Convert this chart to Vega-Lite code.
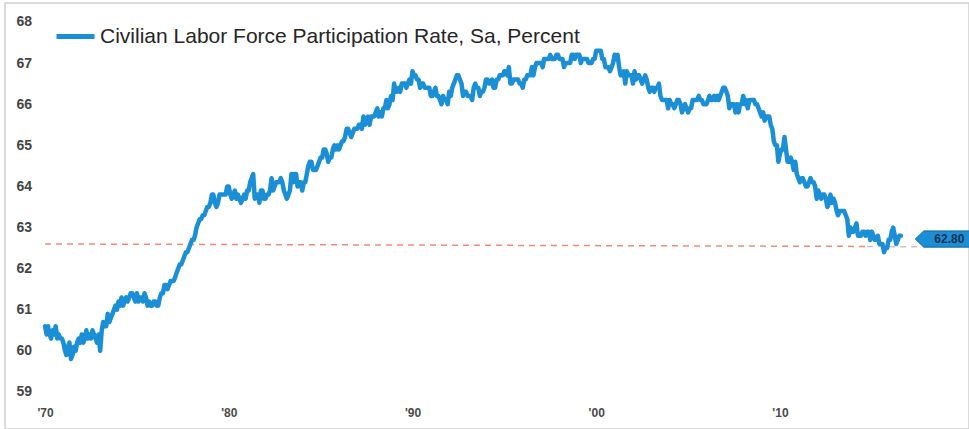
{
  "$schema": "https://vega.github.io/schema/vega-lite/v6.json",
  "autosize": "none",
  "padding": {"left": 5, "top": 3, "right": 0, "bottom": 0},
  "width": 964,
  "height": 426,
  "background": "white",
  "config": {
    "view": {"stroke": "#cfcfcf", "strokeWidth": 1.5},
    "font": "Liberation Sans"
  },
  "layer": [
    {
      "data": {"values": [{"d": "1970-01", "d2": "2014-10", "v": 62.6, "v2": 62.54}]},
      "mark": {"type": "rule", "color": "#f0897c", "strokeWidth": 1.5, "strokeDash": [6, 5]},
      "encoding": {
        "x": {"field": "d", "type": "temporal"},
        "x2": {"field": "d2"},
        "y": {"field": "v", "type": "quantitative"},
        "y2": {"field": "v2"}
      }
    },
    {
      "data": {"values": [{"d": "2014-10", "d2": "2017-08", "v": 62.54, "v2": 62.53}]},
      "mark": {"type": "rule", "color": "#c4c4c4", "strokeWidth": 1.5, "strokeDash": [6, 5]},
      "encoding": {
        "x": {"field": "d", "type": "temporal"},
        "x2": {"field": "d2"},
        "y": {"field": "v", "type": "quantitative"},
        "y2": {"field": "v2"}
      }
    },
    {
      "data": {"values": [
        {"d":"1970-01","v":60.6},{"d":"1970-02","v":60.4},{"d":"1970-03","v":60.6},{"d":"1970-04","v":60.4},{"d":"1970-05","v":60.3},{"d":"1970-06","v":60.5},{"d":"1970-07","v":60.4},{"d":"1970-08","v":60.6},{"d":"1970-09","v":60.3},{"d":"1970-10","v":60.4},{"d":"1970-11","v":60.3},{"d":"1970-12","v":60.3},
        {"d":"1971-01","v":60.2},{"d":"1971-02","v":60.0},{"d":"1971-03","v":59.9},{"d":"1971-04","v":60.1},{"d":"1971-05","v":60.2},{"d":"1971-06","v":59.8},{"d":"1971-07","v":59.9},{"d":"1971-08","v":60.1},{"d":"1971-09","v":60.0},{"d":"1971-10","v":60.2},{"d":"1971-11","v":60.3},{"d":"1971-12","v":60.2},
        {"d":"1972-01","v":60.4},{"d":"1972-02","v":60.2},{"d":"1972-03","v":60.3},{"d":"1972-04","v":60.5},{"d":"1972-05","v":60.3},{"d":"1972-06","v":60.4},{"d":"1972-07","v":60.3},{"d":"1972-08","v":60.5},{"d":"1972-09","v":60.4},{"d":"1972-10","v":60.3},{"d":"1972-11","v":60.2},{"d":"1972-12","v":60.4},
        {"d":"1973-01","v":60.0},{"d":"1973-02","v":60.5},{"d":"1973-03","v":60.7},{"d":"1973-04","v":60.6},{"d":"1973-05","v":60.6},{"d":"1973-06","v":60.9},{"d":"1973-07","v":60.7},{"d":"1973-08","v":60.8},{"d":"1973-09","v":60.9},{"d":"1973-10","v":61.0},{"d":"1973-11","v":61.1},{"d":"1973-12","v":61.0},
        {"d":"1974-01","v":61.2},{"d":"1974-02","v":61.1},{"d":"1974-03","v":61.3},{"d":"1974-04","v":61.1},{"d":"1974-05","v":61.2},{"d":"1974-06","v":61.3},{"d":"1974-07","v":61.2},{"d":"1974-08","v":61.3},{"d":"1974-09","v":61.4},{"d":"1974-10","v":61.4},{"d":"1974-11","v":61.3},{"d":"1974-12","v":61.2},
        {"d":"1975-01","v":61.4},{"d":"1975-02","v":61.2},{"d":"1975-03","v":61.3},{"d":"1975-04","v":61.3},{"d":"1975-05","v":61.2},{"d":"1975-06","v":61.4},{"d":"1975-07","v":61.3},{"d":"1975-08","v":61.1},{"d":"1975-09","v":61.2},{"d":"1975-10","v":61.1},{"d":"1975-11","v":61.1},{"d":"1975-12","v":61.2},
        {"d":"1976-01","v":61.2},{"d":"1976-02","v":61.1},{"d":"1976-03","v":61.1},{"d":"1976-04","v":61.3},{"d":"1976-05","v":61.4},{"d":"1976-06","v":61.4},{"d":"1976-07","v":61.6},{"d":"1976-08","v":61.6},{"d":"1976-09","v":61.5},{"d":"1976-10","v":61.6},{"d":"1976-11","v":61.7},{"d":"1976-12","v":61.7},
        {"d":"1977-01","v":61.7},{"d":"1977-02","v":61.8},{"d":"1977-03","v":61.9},{"d":"1977-04","v":62.0},{"d":"1977-05","v":62.1},{"d":"1977-06","v":62.1},{"d":"1977-07","v":62.2},{"d":"1977-08","v":62.3},{"d":"1977-09","v":62.4},{"d":"1977-10","v":62.4},{"d":"1977-11","v":62.5},{"d":"1977-12","v":62.6},
        {"d":"1978-01","v":62.7},{"d":"1978-02","v":62.7},{"d":"1978-03","v":62.8},{"d":"1978-04","v":63.0},{"d":"1978-05","v":63.1},{"d":"1978-06","v":63.2},{"d":"1978-07","v":63.2},{"d":"1978-08","v":63.3},{"d":"1978-09","v":63.3},{"d":"1978-10","v":63.4},{"d":"1978-11","v":63.5},{"d":"1978-12","v":63.5},
        {"d":"1979-01","v":63.6},{"d":"1979-02","v":63.8},{"d":"1979-03","v":63.8},{"d":"1979-04","v":63.6},{"d":"1979-05","v":63.5},{"d":"1979-06","v":63.6},{"d":"1979-07","v":63.8},{"d":"1979-08","v":63.8},{"d":"1979-09","v":63.8},{"d":"1979-10","v":63.8},{"d":"1979-11","v":63.8},{"d":"1979-12","v":64.0},
        {"d":"1980-01","v":64.0},{"d":"1980-02","v":63.8},{"d":"1980-03","v":63.7},{"d":"1980-04","v":63.8},{"d":"1980-05","v":63.9},{"d":"1980-06","v":63.7},{"d":"1980-07","v":63.8},{"d":"1980-08","v":63.7},{"d":"1980-09","v":63.6},{"d":"1980-10","v":63.7},{"d":"1980-11","v":63.8},{"d":"1980-12","v":63.7},
        {"d":"1981-01","v":63.9},{"d":"1981-02","v":63.9},{"d":"1981-03","v":64.1},{"d":"1981-04","v":64.2},{"d":"1981-05","v":64.3},{"d":"1981-06","v":63.7},{"d":"1981-07","v":63.8},{"d":"1981-08","v":63.8},{"d":"1981-09","v":63.6},{"d":"1981-10","v":63.9},{"d":"1981-11","v":63.9},{"d":"1981-12","v":63.7},
        {"d":"1982-01","v":63.7},{"d":"1982-02","v":63.8},{"d":"1982-03","v":63.8},{"d":"1982-04","v":63.9},{"d":"1982-05","v":64.2},{"d":"1982-06","v":63.9},{"d":"1982-07","v":64.0},{"d":"1982-08","v":64.1},{"d":"1982-09","v":64.1},{"d":"1982-10","v":64.1},{"d":"1982-11","v":64.2},{"d":"1982-12","v":64.1},
        {"d":"1983-01","v":63.9},{"d":"1983-02","v":63.8},{"d":"1983-03","v":63.7},{"d":"1983-04","v":63.8},{"d":"1983-05","v":63.9},{"d":"1983-06","v":64.3},{"d":"1983-07","v":64.1},{"d":"1983-08","v":64.3},{"d":"1983-09","v":64.3},{"d":"1983-10","v":64.0},{"d":"1983-11","v":64.1},{"d":"1983-12","v":64.1},
        {"d":"1984-01","v":63.9},{"d":"1984-02","v":64.1},{"d":"1984-03","v":64.1},{"d":"1984-04","v":64.3},{"d":"1984-05","v":64.5},{"d":"1984-06","v":64.6},{"d":"1984-07","v":64.6},{"d":"1984-08","v":64.4},{"d":"1984-09","v":64.4},{"d":"1984-10","v":64.4},{"d":"1984-11","v":64.5},{"d":"1984-12","v":64.6},
        {"d":"1985-01","v":64.7},{"d":"1985-02","v":64.7},{"d":"1985-03","v":64.9},{"d":"1985-04","v":64.9},{"d":"1985-05","v":64.8},{"d":"1985-06","v":64.6},{"d":"1985-07","v":64.7},{"d":"1985-08","v":64.7},{"d":"1985-09","v":64.9},{"d":"1985-10","v":65.0},{"d":"1985-11","v":64.9},{"d":"1985-12","v":65.0},
        {"d":"1986-01","v":64.9},{"d":"1986-02","v":65.0},{"d":"1986-03","v":65.1},{"d":"1986-04","v":65.1},{"d":"1986-05","v":65.2},{"d":"1986-06","v":65.4},{"d":"1986-07","v":65.4},{"d":"1986-08","v":65.3},{"d":"1986-09","v":65.2},{"d":"1986-10","v":65.3},{"d":"1986-11","v":65.4},{"d":"1986-12","v":65.4},
        {"d":"1987-01","v":65.4},{"d":"1987-02","v":65.5},{"d":"1987-03","v":65.5},{"d":"1987-04","v":65.4},{"d":"1987-05","v":65.7},{"d":"1987-06","v":65.5},{"d":"1987-07","v":65.6},{"d":"1987-08","v":65.7},{"d":"1987-09","v":65.5},{"d":"1987-10","v":65.7},{"d":"1987-11","v":65.7},{"d":"1987-12","v":65.7},
        {"d":"1988-01","v":65.8},{"d":"1988-02","v":65.9},{"d":"1988-03","v":65.7},{"d":"1988-04","v":65.8},{"d":"1988-05","v":65.7},{"d":"1988-06","v":65.9},{"d":"1988-07","v":65.9},{"d":"1988-08","v":66.1},{"d":"1988-09","v":65.9},{"d":"1988-10","v":66.0},{"d":"1988-11","v":66.2},{"d":"1988-12","v":66.1},
        {"d":"1989-01","v":66.5},{"d":"1989-02","v":66.3},{"d":"1989-03","v":66.3},{"d":"1989-04","v":66.4},{"d":"1989-05","v":66.3},{"d":"1989-06","v":66.5},{"d":"1989-07","v":66.5},{"d":"1989-08","v":66.5},{"d":"1989-09","v":66.4},{"d":"1989-10","v":66.5},{"d":"1989-11","v":66.6},{"d":"1989-12","v":66.5},
        {"d":"1990-01","v":66.8},{"d":"1990-02","v":66.7},{"d":"1990-03","v":66.7},{"d":"1990-04","v":66.6},{"d":"1990-05","v":66.6},{"d":"1990-06","v":66.4},{"d":"1990-07","v":66.5},{"d":"1990-08","v":66.5},{"d":"1990-09","v":66.4},{"d":"1990-10","v":66.4},{"d":"1990-11","v":66.4},{"d":"1990-12","v":66.4},
        {"d":"1991-01","v":66.2},{"d":"1991-02","v":66.2},{"d":"1991-03","v":66.3},{"d":"1991-04","v":66.4},{"d":"1991-05","v":66.2},{"d":"1991-06","v":66.2},{"d":"1991-07","v":66.1},{"d":"1991-08","v":66.0},{"d":"1991-09","v":66.2},{"d":"1991-10","v":66.1},{"d":"1991-11","v":66.1},{"d":"1991-12","v":66.0},
        {"d":"1992-01","v":66.3},{"d":"1992-02","v":66.2},{"d":"1992-03","v":66.4},{"d":"1992-04","v":66.5},{"d":"1992-05","v":66.6},{"d":"1992-06","v":66.7},{"d":"1992-07","v":66.7},{"d":"1992-08","v":66.6},{"d":"1992-09","v":66.5},{"d":"1992-10","v":66.2},{"d":"1992-11","v":66.3},{"d":"1992-12","v":66.3},
        {"d":"1993-01","v":66.2},{"d":"1993-02","v":66.2},{"d":"1993-03","v":66.2},{"d":"1993-04","v":66.1},{"d":"1993-05","v":66.4},{"d":"1993-06","v":66.5},{"d":"1993-07","v":66.4},{"d":"1993-08","v":66.4},{"d":"1993-09","v":66.2},{"d":"1993-10","v":66.3},{"d":"1993-11","v":66.3},{"d":"1993-12","v":66.4},
        {"d":"1994-01","v":66.6},{"d":"1994-02","v":66.6},{"d":"1994-03","v":66.5},{"d":"1994-04","v":66.5},{"d":"1994-05","v":66.6},{"d":"1994-06","v":66.4},{"d":"1994-07","v":66.4},{"d":"1994-08","v":66.6},{"d":"1994-09","v":66.6},{"d":"1994-10","v":66.7},{"d":"1994-11","v":66.7},{"d":"1994-12","v":66.7},
        {"d":"1995-01","v":66.8},{"d":"1995-02","v":66.8},{"d":"1995-03","v":66.7},{"d":"1995-04","v":66.9},{"d":"1995-05","v":66.5},{"d":"1995-06","v":66.5},{"d":"1995-07","v":66.6},{"d":"1995-08","v":66.6},{"d":"1995-09","v":66.6},{"d":"1995-10","v":66.6},{"d":"1995-11","v":66.5},{"d":"1995-12","v":66.5},
        {"d":"1996-01","v":66.4},{"d":"1996-02","v":66.6},{"d":"1996-03","v":66.6},{"d":"1996-04","v":66.7},{"d":"1996-05","v":66.7},{"d":"1996-06","v":66.7},{"d":"1996-07","v":66.9},{"d":"1996-08","v":66.7},{"d":"1996-09","v":66.9},{"d":"1996-10","v":67.0},{"d":"1996-11","v":67.0},{"d":"1996-12","v":67.0},
        {"d":"1997-01","v":67.0},{"d":"1997-02","v":66.9},{"d":"1997-03","v":67.1},{"d":"1997-04","v":67.1},{"d":"1997-05","v":67.1},{"d":"1997-06","v":67.1},{"d":"1997-07","v":67.2},{"d":"1997-08","v":67.1},{"d":"1997-09","v":67.1},{"d":"1997-10","v":67.1},{"d":"1997-11","v":67.2},{"d":"1997-12","v":67.2},
        {"d":"1998-01","v":67.1},{"d":"1998-02","v":67.1},{"d":"1998-03","v":67.1},{"d":"1998-04","v":66.9},{"d":"1998-05","v":67.0},{"d":"1998-06","v":67.0},{"d":"1998-07","v":67.0},{"d":"1998-08","v":67.0},{"d":"1998-09","v":67.2},{"d":"1998-10","v":67.2},{"d":"1998-11","v":67.1},{"d":"1998-12","v":67.2},
        {"d":"1999-01","v":67.2},{"d":"1999-02","v":67.2},{"d":"1999-03","v":67.0},{"d":"1999-04","v":67.1},{"d":"1999-05","v":67.1},{"d":"1999-06","v":67.1},{"d":"1999-07","v":67.1},{"d":"1999-08","v":67.0},{"d":"1999-09","v":67.0},{"d":"1999-10","v":67.0},{"d":"1999-11","v":67.1},{"d":"1999-12","v":67.1},
        {"d":"2000-01","v":67.3},{"d":"2000-02","v":67.3},{"d":"2000-03","v":67.3},{"d":"2000-04","v":67.3},{"d":"2000-05","v":67.1},{"d":"2000-06","v":67.1},{"d":"2000-07","v":66.9},{"d":"2000-08","v":66.9},{"d":"2000-09","v":66.9},{"d":"2000-10","v":66.8},{"d":"2000-11","v":66.9},{"d":"2000-12","v":67.0},
        {"d":"2001-01","v":67.2},{"d":"2001-02","v":67.1},{"d":"2001-03","v":67.2},{"d":"2001-04","v":66.9},{"d":"2001-05","v":66.7},{"d":"2001-06","v":66.7},{"d":"2001-07","v":66.8},{"d":"2001-08","v":66.5},{"d":"2001-09","v":66.8},{"d":"2001-10","v":66.7},{"d":"2001-11","v":66.7},{"d":"2001-12","v":66.7},
        {"d":"2002-01","v":66.5},{"d":"2002-02","v":66.8},{"d":"2002-03","v":66.6},{"d":"2002-04","v":66.7},{"d":"2002-05","v":66.7},{"d":"2002-06","v":66.6},{"d":"2002-07","v":66.5},{"d":"2002-08","v":66.6},{"d":"2002-09","v":66.7},{"d":"2002-10","v":66.6},{"d":"2002-11","v":66.4},{"d":"2002-12","v":66.3},
        {"d":"2003-01","v":66.4},{"d":"2003-02","v":66.4},{"d":"2003-03","v":66.3},{"d":"2003-04","v":66.4},{"d":"2003-05","v":66.4},{"d":"2003-06","v":66.5},{"d":"2003-07","v":66.2},{"d":"2003-08","v":66.1},{"d":"2003-09","v":66.1},{"d":"2003-10","v":66.1},{"d":"2003-11","v":66.1},{"d":"2003-12","v":65.9},
        {"d":"2004-01","v":66.1},{"d":"2004-02","v":66.0},{"d":"2004-03","v":66.0},{"d":"2004-04","v":65.9},{"d":"2004-05","v":66.0},{"d":"2004-06","v":66.1},{"d":"2004-07","v":66.1},{"d":"2004-08","v":66.0},{"d":"2004-09","v":65.8},{"d":"2004-10","v":65.9},{"d":"2004-11","v":66.0},{"d":"2004-12","v":65.9},
        {"d":"2005-01","v":65.8},{"d":"2005-02","v":65.9},{"d":"2005-03","v":65.9},{"d":"2005-04","v":66.1},{"d":"2005-05","v":66.1},{"d":"2005-06","v":66.1},{"d":"2005-07","v":66.1},{"d":"2005-08","v":66.2},{"d":"2005-09","v":66.1},{"d":"2005-10","v":66.1},{"d":"2005-11","v":66.0},{"d":"2005-12","v":66.0},
        {"d":"2006-01","v":66.0},{"d":"2006-02","v":66.1},{"d":"2006-03","v":66.2},{"d":"2006-04","v":66.1},{"d":"2006-05","v":66.1},{"d":"2006-06","v":66.2},{"d":"2006-07","v":66.1},{"d":"2006-08","v":66.2},{"d":"2006-09","v":66.1},{"d":"2006-10","v":66.2},{"d":"2006-11","v":66.3},{"d":"2006-12","v":66.4},
        {"d":"2007-01","v":66.4},{"d":"2007-02","v":66.3},{"d":"2007-03","v":66.2},{"d":"2007-04","v":65.9},{"d":"2007-05","v":66.0},{"d":"2007-06","v":66.0},{"d":"2007-07","v":66.0},{"d":"2007-08","v":65.8},{"d":"2007-09","v":66.0},{"d":"2007-10","v":65.8},{"d":"2007-11","v":66.0},{"d":"2007-12","v":66.0},
        {"d":"2008-01","v":66.2},{"d":"2008-02","v":66.0},{"d":"2008-03","v":66.1},{"d":"2008-04","v":65.9},{"d":"2008-05","v":66.1},{"d":"2008-06","v":66.1},{"d":"2008-07","v":66.1},{"d":"2008-08","v":66.1},{"d":"2008-09","v":66.0},{"d":"2008-10","v":66.0},{"d":"2008-11","v":65.9},{"d":"2008-12","v":65.8},
        {"d":"2009-01","v":65.7},{"d":"2009-02","v":65.8},{"d":"2009-03","v":65.6},{"d":"2009-04","v":65.7},{"d":"2009-05","v":65.7},{"d":"2009-06","v":65.7},{"d":"2009-07","v":65.5},{"d":"2009-08","v":65.4},{"d":"2009-09","v":65.1},{"d":"2009-10","v":65.0},{"d":"2009-11","v":65.0},{"d":"2009-12","v":64.6},
        {"d":"2010-01","v":64.8},{"d":"2010-02","v":64.9},{"d":"2010-03","v":64.9},{"d":"2010-04","v":65.2},{"d":"2010-05","v":64.9},{"d":"2010-06","v":64.6},{"d":"2010-07","v":64.6},{"d":"2010-08","v":64.7},{"d":"2010-09","v":64.6},{"d":"2010-10","v":64.4},{"d":"2010-11","v":64.6},{"d":"2010-12","v":64.3},
        {"d":"2011-01","v":64.2},{"d":"2011-02","v":64.1},{"d":"2011-03","v":64.2},{"d":"2011-04","v":64.2},{"d":"2011-05","v":64.1},{"d":"2011-06","v":64.0},{"d":"2011-07","v":64.0},{"d":"2011-08","v":64.1},{"d":"2011-09","v":64.2},{"d":"2011-10","v":64.1},{"d":"2011-11","v":64.1},{"d":"2011-12","v":64.0},
        {"d":"2012-01","v":63.7},{"d":"2012-02","v":63.9},{"d":"2012-03","v":63.8},{"d":"2012-04","v":63.7},{"d":"2012-05","v":63.8},{"d":"2012-06","v":63.8},{"d":"2012-07","v":63.7},{"d":"2012-08","v":63.5},{"d":"2012-09","v":63.6},{"d":"2012-10","v":63.8},{"d":"2012-11","v":63.6},{"d":"2012-12","v":63.7},
        {"d":"2013-01","v":63.6},{"d":"2013-02","v":63.4},{"d":"2013-03","v":63.3},{"d":"2013-04","v":63.4},{"d":"2013-05","v":63.4},{"d":"2013-06","v":63.4},{"d":"2013-07","v":63.4},{"d":"2013-08","v":63.3},{"d":"2013-09","v":63.2},{"d":"2013-10","v":62.8},{"d":"2013-11","v":63.0},{"d":"2013-12","v":62.9},
        {"d":"2014-01","v":62.9},{"d":"2014-02","v":63.0},{"d":"2014-03","v":63.1},{"d":"2014-04","v":62.8},{"d":"2014-05","v":62.8},{"d":"2014-06","v":62.8},{"d":"2014-07","v":62.9},{"d":"2014-08","v":62.9},{"d":"2014-09","v":62.8},{"d":"2014-10","v":62.9},{"d":"2014-11","v":62.9},{"d":"2014-12","v":62.7},
        {"d":"2015-01","v":62.9},{"d":"2015-02","v":62.8},{"d":"2015-03","v":62.7},{"d":"2015-04","v":62.7},{"d":"2015-05","v":62.8},{"d":"2015-06","v":62.6},{"d":"2015-07","v":62.6},{"d":"2015-08","v":62.6},{"d":"2015-09","v":62.4},{"d":"2015-10","v":62.5},{"d":"2015-11","v":62.5},{"d":"2015-12","v":62.7},
        {"d":"2016-01","v":62.7},{"d":"2016-02","v":62.9},{"d":"2016-03","v":63.0},{"d":"2016-04","v":62.8},{"d":"2016-05","v":62.6},{"d":"2016-06","v":62.7},{"d":"2016-07","v":62.8},{"d":"2016-08","v":62.8}
      ]},
      "mark": {"type": "line", "strokeWidth": 4.5, "strokeJoin": "round", "strokeCap": "round"},
      "encoding": {
        "x": {
          "field": "d", "type": "temporal",
          "scale": {"domain": [{"year": 1967, "month": 10, "date": 28}, {"year": 2020, "month": 4, "date": 16}], "nice": false},
          "axis": {
            "title": null, "grid": false, "domain": false, "ticks": false,
            "values": [{"year": 1970}, {"year": 1980}, {"year": 1990}, {"year": 2000}, {"year": 2010}],
            "format": "'%y", "labelBaseline": "middle", "labelPadding": -17,
            "labelFontSize": 12, "labelFontWeight": "bold", "labelColor": "#4a4a4a", "labelFont": "Liberation Sans"
          }
        },
        "y": {
          "field": "v", "type": "quantitative",
          "scale": {"domain": [58.1, 68.46], "nice": false, "zero": false},
          "axis": {
            "title": null, "grid": false, "domain": false, "ticks": false,
            "values": [59, 60, 61, 62, 63, 64, 65, 66, 67, 68],
            "labelAlign": "left", "labelPadding": -11,
            "labelFontSize": 14, "labelFontWeight": "bold", "labelColor": "#444444", "labelFont": "Liberation Sans"
          }
        },
        "color": {
          "datum": "Civilian Labor Force Participation Rate, Sa, Percent",
          "scale": {"range": ["#1b8fd6"]},
          "legend": {
            "title": null, "orient": "none", "legendX": 49, "legendY": 12,
            "symbolType": "stroke", "symbolSize": 1444, "symbolStrokeWidth": 5,
            "labelFontSize": 21, "labelColor": "#262626", "labelFont": "Liberation Sans",
            "labelLimit": 0, "labelOffset": 3, "padding": 0
          }
        }
      }
    },
    {
      "data": {"values": [{"d": "2019-01", "v": 62.72, "label": "62.80"}]},
      "layer": [
        {
          "mark": {"type": "point", "filled": true, "opacity": 1, "color": "#1b8fd6", "stroke": "#14659a", "strokeWidth": 1,
                   "shape": "M -1 0 L -0.72 -0.27 L 1 -0.27 L 1 0.27 L -0.72 0.27 Z", "size": 3600},
          "encoding": {
            "x": {"field": "d", "type": "temporal"},
            "y": {"field": "v", "type": "quantitative"}
          }
        },
        {
          "mark": {"type": "text", "font": "Liberation Sans", "fontSize": 12, "fontWeight": "bold", "color": "#12324f", "dx": 4},
          "encoding": {
            "x": {"field": "d", "type": "temporal"},
            "y": {"field": "v", "type": "quantitative"},
            "text": {"field": "label"}
          }
        }
      ]
    }
  ]
}
